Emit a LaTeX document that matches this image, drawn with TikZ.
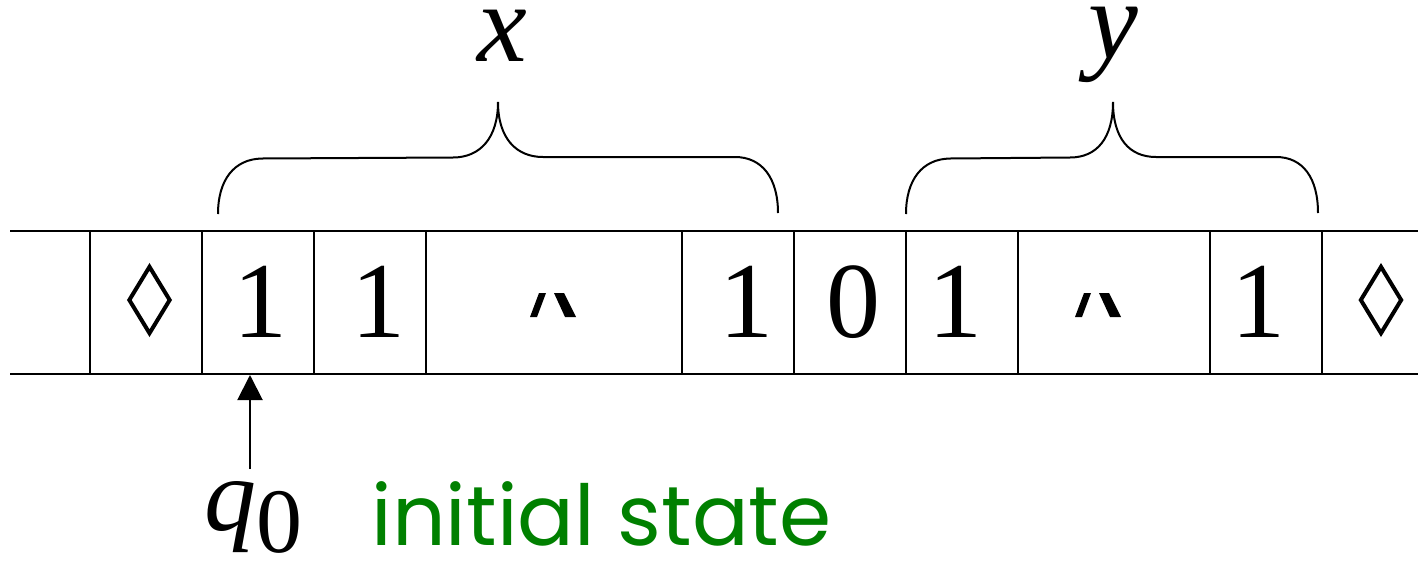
\documentclass[tikz,border=0pt]{standalone}
\usepackage{fontspec}
\setmainfont{Liberation Serif}
\newfontfamily\greenfont{Poppins}
\usetikzlibrary{arrows.meta,shapes.geometric}
\definecolor{tgreen}{RGB}{0,128,0}
\begin{document}
\begin{tikzpicture}[x=0.5pt,y=-0.5pt,
  tapeline/.style={line width=1.3pt},
  divider/.style={line width=1pt},
  sym/.style={anchor=base,inner sep=0pt,font=\fontsize{54}{54}\selectfont},
  lozenge/.style={draw,diamond,line width=2pt,minimum width=21pt,minimum height=34pt,inner sep=0pt},
  dotstroke/.style={fill=black,draw=none},
  brace/.style={line width=1pt},
  letter/.style={anchor=base,inner sep=0pt,font=\fontsize{56}{56}\selectfont\itshape}]
\useasboundingbox (0,0) rectangle (1426,563);
% tape
\coordinate (tl) at (10,231);
\coordinate (tr) at (1418,231);
\coordinate (bl) at (10,374);
\coordinate (br) at (1418,374);
\draw[tapeline] (tl) -- (tr);
\draw[tapeline] (bl) -- (br);
\foreach \xx in {90,202,314,426,682,794,906,1018,1210,1322}
  \draw[divider] (\xx,231) -- (\xx,374);
% cell contents
\node[lozenge] (d1) at (149.5,300) {};
\node[sym] (s1) at (260,337) {1};
\node[sym] (s2) at (378,337) {1};
\node[sym] (s4) at (746,337) {1};
\node[sym] (s5) at (853,337) {0};
\node[sym] (s6) at (955,337) {1};
\node[sym] (s8) at (1258,337) {1};
\node[lozenge] (d2) at (1381,300) {};
% clipped ellipsis glyphs
\foreach \off in {0,545}{
  \fill[dotstroke] (530+\off,317) -- (537+\off,317) -- (546+\off,293) -- (539+\off,293) -- cycle;
  \fill[dotstroke] (554+\off,293) -- (564+\off,293) -- (576+\off,317) -- (565+\off,317) -- cycle;
}
% braces
\draw[brace] (218,214) .. controls (218,180) and (234,159) .. (262,158.5)
  -- (453,157.5) .. controls (480,157.5) and (498,138) .. (498,102)
  .. controls (498,138) and (516,157) .. (543,157)
  -- (735,157) .. controls (762,157) and (778,178) .. (778,213);
\draw[brace] (906,214) .. controls (906,180) and (922,159) .. (950,158.5)
  -- (1070,157.5) .. controls (1097,157.5) and (1113,138) .. (1113,102)
  .. controls (1113,138) and (1129,157) .. (1156,157)
  -- (1276,157) .. controls (1303,157) and (1318,178) .. (1318,213);
\node[letter] (lx) at (502,61) {x};
\node[letter] (ly) at (1113,58) {y};
% head and initial state
\node[anchor=base west,inner sep=0pt] (q0) at (204,530)
  {{\fontsize{52}{52}\selectfont\itshape q}{\fontsize{46}{46}\selectfont\raisebox{-11pt}{0}}};
\coordinate (qtail) at (250,469);
\coordinate (qhead) at (250,375);
\draw[line width=1pt,-{Triangle[width=12.5pt,length=12.5pt]}] (qtail) -- (qhead);
\node[anchor=base west,inner sep=0pt,text=tgreen,font=\greenfont\fontsize{42}{42}\selectfont] (init) at (371,545) {initial state};
\end{tikzpicture}
\end{document}
